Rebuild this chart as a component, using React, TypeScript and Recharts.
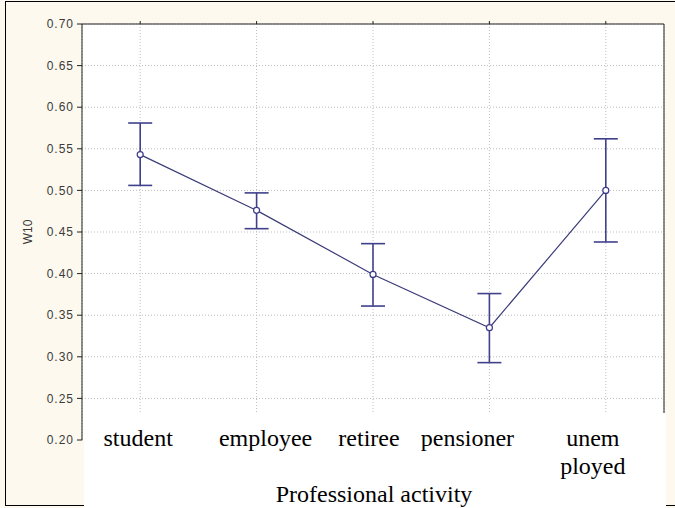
import { CartesianGrid, ErrorBar, Line, LineChart, XAxis, YAxis } from "recharts";

const categories = ["student", "employee", "retiree", "pensioner", "unemployed"];
const tickText = [["student"], ["employee"], ["retiree"], ["pensioner"], ["unem", "ployed"]];
const xTitle = "Professional activity";
const means = [0.543, 0.476, 0.399, 0.335, 0.5];
const lower = [0.506, 0.454, 0.361, 0.293, 0.438];
const upper = [0.581, 0.497, 0.436, 0.376, 0.562];
const yTicks = [0.2, 0.25, 0.3, 0.35, 0.4, 0.45, 0.5, 0.55, 0.6, 0.65, 0.7];

// the category words in the source sit a little off their grid lines
const labelShift = [-2, 9, -4, -22, -13];

const data = categories.map((name, i) => ({
	name,
	w10: means[i],
	err: [means[i] - lower[i], upper[i] - means[i]],
}));

const sans = "'Liberation Sans', Arial, sans-serif";
const serif = "'Liberation Serif', 'Times New Roman', serif";

// the white caption box pasted over the bottom of the plot
function CaptionBox(props: any) {
	if (props.payload?.value !== categories[0]) return <g />;
	return <rect x={84} y={413} width={582} height={95} fill='#fff' />;
}

function CategoryTick(props: any) {
	const { x, y, payload } = props;
	const i = categories.indexOf(payload?.value);
	const lines = tickText[i] || [];
	const tx = x + (labelShift[i] || 0);
	// axis title sits under the middle category (= centre of the plot)
	const middle = i === Math.floor(categories.length / 2);
	return (
		<g>
			<text x={tx} y={y + 6} textAnchor='middle' fontFamily={serif} fontSize={24} fill='#000'>
				{lines.map((t: string, k: number) => (
					<tspan key={k} x={tx} dy={k === 0 ? 0 : 28}>
						{t}
					</tspan>
				))}
			</text>
			{middle && (
				<text x={x + 1} y={y + 62} textAnchor='middle' fontFamily={serif} fontSize={24} fill='#000'>
					{xTitle}
				</text>
			)}
		</g>
	);
}

function YTitle(props: any) {
	const vb = props.viewBox;
	const cx = vb.x + 9;
	const cy = vb.y + vb.height / 2;
	return (
		<text
			x={cx}
			y={cy}
			transform={`rotate(-90 ${cx} ${cy})`}
			textAnchor='middle'
			fontFamily={sans}
			fontSize={12}
			fill='#3b3b3b'
		>
			W10
		</text>
	);
}

export default function App() {
	return (
		<div
			style={{
				position: "absolute",
				left: 0,
				top: 0,
				width: 675,
				height: 508,
				overflow: "hidden",
				background: "#fdf9ee",
			}}
		>
			<div
				style={{
					position: "absolute",
					left: 5,
					top: 1,
					width: 720,
					height: 503,
					border: "1.5px solid #000",
				}}
			/>
			<div style={{ position: "absolute", left: 0, top: 0 }}>
				<LineChart
					width={675}
					height={508}
					data={data}
					margin={{ top: 23, right: 11, bottom: 67, left: 23 }}
				>
					<CartesianGrid
						fill='#fff'
						stroke='#bdbdbd'
						strokeDasharray='1 2'
					/>
					<Line
						dataKey='w10'
						stroke='#3b3b7a'
						strokeWidth={1.2}
						dot={{ r: 3, fill: "#fff", stroke: "#3b3b88", strokeWidth: 1.2 }}
						isAnimationActive={false}
					>
						<ErrorBar
							dataKey='err'
							direction='y'
							width={12}
							stroke='#40408c'
							strokeWidth={1.6}
						/>
					</Line>
					<YAxis
						yAxisId='r'
						orientation='right'
						type='number'
						domain={[0.2, 0.7]}
						ticks={yTicks}
						width={1}
						mirror
						tickSize={3}
						tick={false}
						axisLine={{ stroke: "#222" }}
						tickLine={{ stroke: "#222" }}
					/>
					<XAxis
						xAxisId='top'
						dataKey='name'
						scale='band'
						orientation='top'
						height={1}
						tickSize={3}
						tick={<CaptionBox />}
						interval={0}
						axisLine={{ stroke: "#222" }}
						tickLine={{ stroke: "#222" }}
					/>
					<XAxis
						dataKey='name'
						scale='band'
						height={1}
						tickSize={0}
						tickMargin={0}
						tickLine={false}
						axisLine={false}
						tick={<CategoryTick />}
						interval={0}
					/>
					<YAxis
						type='number'
						domain={[0.2, 0.7]}
						ticks={yTicks}
						allowDataOverflow
						width={59}
						tickSize={5}
						tickMargin={3}
						interval={0}
						tickFormatter={(v: number) => v.toFixed(2)}
						tick={{ fontFamily: sans, fontSize: 12, fill: "#3b3b3b", letterSpacing: 1 }}
						axisLine={{ stroke: "#222" }}
						tickLine={{ stroke: "#222" }}
						label={<YTitle />}
					/>
				</LineChart>
			</div>
		</div>
	);
}
